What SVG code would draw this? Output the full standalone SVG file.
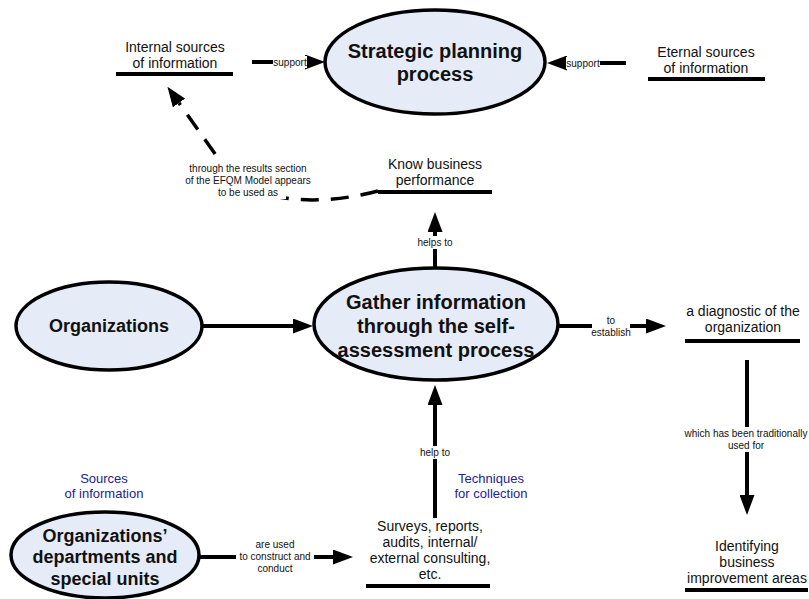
<svg xmlns="http://www.w3.org/2000/svg" width="809" height="599" viewBox="0 0 809 599">
<style>
.ell{fill:#e6ecf7;stroke:#000;stroke-width:3.5}
.bt{font-family:"Liberation Sans",Arial,sans-serif;font-weight:bold;fill:#111;text-anchor:middle}
.t{font-family:"Liberation Sans",Arial,sans-serif;font-size:14px;fill:#111;text-anchor:middle}
.bl{font-family:"Liberation Sans",Arial,sans-serif;font-size:13px;fill:#22229a;text-anchor:middle}
.lb{font-family:"Liberation Sans",Arial,sans-serif;font-size:10px;fill:#111;text-anchor:middle}
.ul{stroke:#000;stroke-width:4}
.c{stroke:#000;stroke-width:4;fill:none;marker-end:url(#ah)}
.d{stroke:#000;stroke-width:3.5;fill:none;stroke-dasharray:18 12;marker-end:url(#ah)}
.bg{fill:#fff}
</style>
<defs>
<marker id="ah" viewBox="0 0 20 15" refX="0" refY="7.5" markerWidth="20" markerHeight="15" markerUnits="userSpaceOnUse" orient="auto">
<path d="M0,0 L20,7.5 L0,15 z" fill="#000"/>
</marker>
</defs>
<rect width="809" height="599" fill="#fff"/>

<g id="connectors">
<line class="c" x1="252" y1="62" x2="305" y2="62"/>
<line class="c" x1="626" y1="63" x2="567" y2="63"/>
<line class="c" x1="203" y1="326" x2="293" y2="326"/>
<line class="c" x1="558" y1="326" x2="646" y2="326"/>
<line class="c" x1="435" y1="268" x2="435" y2="232"/>
<line class="c" x1="435" y1="518" x2="435" y2="405"/>
<line class="c" x1="198" y1="557" x2="333" y2="557"/>
<line class="c" x1="747" y1="360" x2="747" y2="495"/>
<path class="d" d="M378,191 C330,204 265,206 230,175 L179,103"/>
<g id="labels">
<rect class="bg" x="273" y="56" width="34" height="12"/>
<text class="lb" x="290" y="65.5">support</text>
<rect class="bg" x="566" y="57" width="34" height="12"/>
<text class="lb" x="583" y="66.5">support</text>
<rect class="bg" x="592" y="314" width="38" height="25"/>
<text class="lb" x="611" y="324">to</text>
<text class="lb" x="611" y="336">establish</text>
<rect class="bg" x="414" y="236" width="42" height="13"/>
<text class="lb" x="435" y="245.5">helps to</text>
<rect class="bg" x="416" y="446" width="38" height="13"/>
<text class="lb" x="435" y="455.5">help to</text>
<rect class="bg" x="236" y="538" width="78" height="37"/>
<text class="lb" x="275" y="548">are used</text>
<text class="lb" x="275" y="560">to construct and</text>
<text class="lb" x="275" y="572">conduct</text>
<rect class="bg" x="683" y="427" width="126" height="25"/>
<text class="lb" x="746" y="437">which has been traditionally</text>
<text class="lb" x="746" y="449">used for</text>
<rect class="bg" x="186" y="162" width="124" height="25"/>
<rect class="bg" x="212" y="187" width="74" height="12"/>
<text class="lb" x="248" y="172">through the results section</text>
<text class="lb" x="248" y="184">of the EFQM Model appears</text>
<text class="lb" x="248" y="196">to be used as</text>
</g>
</g>

<g id="strategic">
<ellipse class="ell" cx="435" cy="62" rx="110" ry="52"/>
<text class="bt" font-size="20" x="435" y="58">Strategic planning</text>
<text class="bt" font-size="20" x="435" y="81">process</text>
</g>

<g id="internal">
<text class="t" x="175" y="52">Internal sources</text>
<text class="t" x="175" y="68">of information</text>
<line class="ul" x1="116" y1="74" x2="233" y2="74"/>
</g>

<g id="external">
<text class="t" x="706" y="57">Eternal sources</text>
<text class="t" x="706" y="73">of information</text>
<line class="ul" x1="648" y1="79" x2="765" y2="79"/>
</g>

<g id="know">
<text class="t" x="435" y="169">Know business</text>
<text class="t" x="435" y="185">performance</text>
<line class="ul" x1="378" y1="192" x2="492" y2="192"/>
</g>

<g id="organizations">
<ellipse class="ell" cx="109" cy="326" rx="93" ry="44"/>
<text class="bt" font-size="18" x="109" y="332">Organizations</text>
</g>

<g id="gather">
<ellipse class="ell" cx="436" cy="324" rx="122" ry="56"/>
<text class="bt" font-size="20" x="436" y="309">Gather information</text>
<text class="bt" font-size="20" x="436" y="333">through the self-</text>
<text class="bt" font-size="20" x="436" y="357">assessment process</text>
</g>

<g id="diagnostic">
<text class="t" x="743" y="316">a diagnostic of the</text>
<text class="t" x="743" y="332">organization</text>
<line class="ul" x1="685" y1="341" x2="800" y2="341"/>
</g>

<g id="sources">
<text class="bl" x="104" y="483">Sources</text>
<text class="bl" x="104" y="498">of information</text>
</g>

<g id="techniques">
<text class="bl" x="491" y="483">Techniques</text>
<text class="bl" x="491" y="498">for collection</text>
</g>

<g id="departments">
<ellipse class="ell" cx="105" cy="555" rx="94" ry="43"/>
<text class="bt" font-size="18" x="105" y="542">Organizations’</text>
<text class="bt" font-size="18" x="105" y="563">departments and</text>
<text class="bt" font-size="18" x="105" y="585">special units</text>
</g>

<g id="surveys">
<text class="t" x="430" y="531">Surveys, reports,</text>
<text class="t" x="430" y="547">audits, internal/</text>
<text class="t" x="430" y="563">external consulting,</text>
<text class="t" x="430" y="579">etc.</text>
<line class="ul" x1="366" y1="586" x2="490" y2="586"/>
</g>

<g id="identifying">
<text class="t" x="747" y="551">Identifying</text>
<text class="t" x="747" y="567">business</text>
<text class="t" x="747" y="583">improvement areas</text>
<line class="ul" x1="685" y1="590" x2="808" y2="590"/>
</g>
</svg>
